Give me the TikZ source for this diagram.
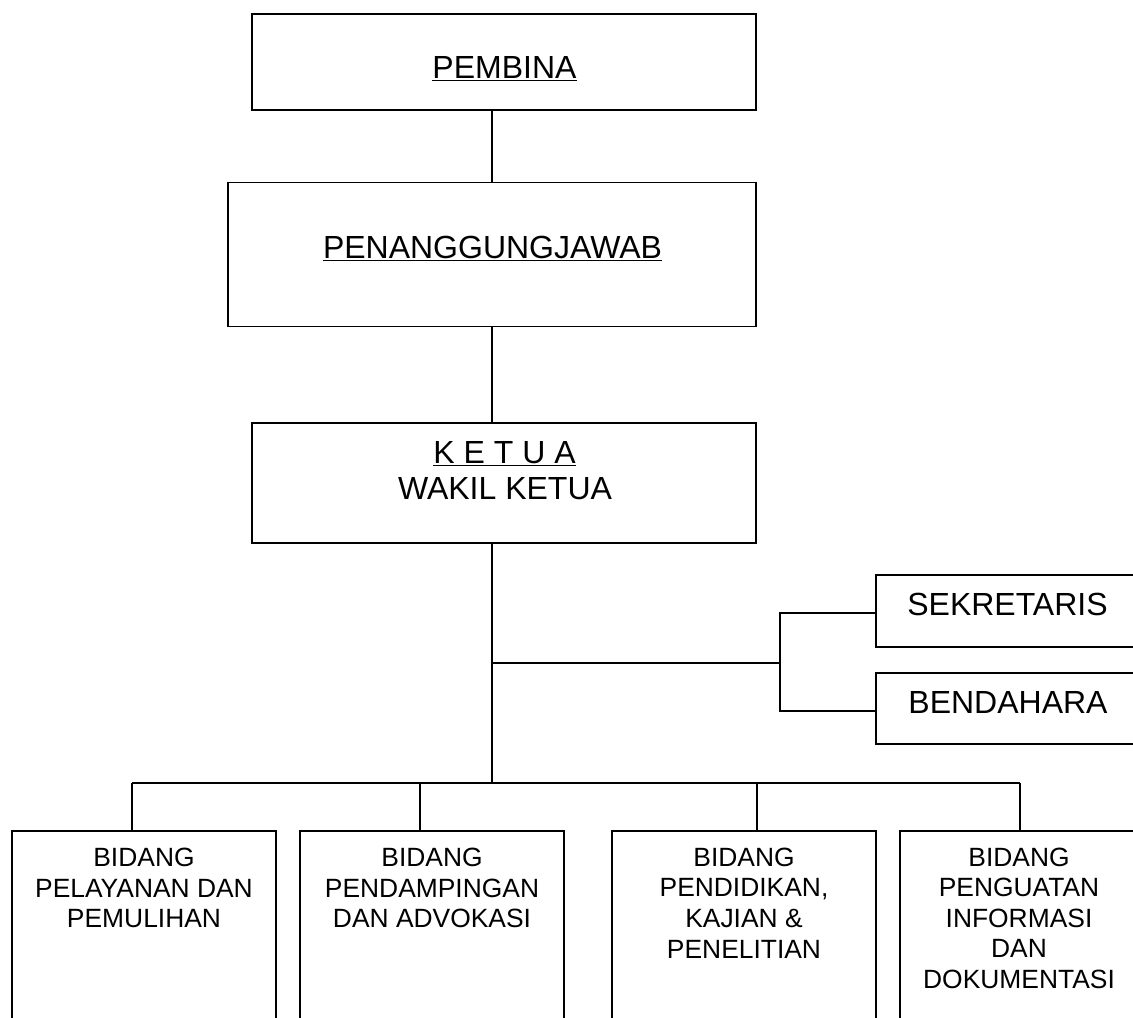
\documentclass[tikz,border=0pt]{standalone}
\usepackage{fontspec}
\setmainfont{Liberation Sans}
\begin{document}
\begin{tikzpicture}[x=0.75pt,y=-0.75pt,
  box/.style={draw=black,line width=1.4pt,rectangle,inner sep=0pt,fill=none},
  conn/.style={draw=black,line width=1.4pt},
  bigtxt/.style={inner sep=0pt,font=\fontsize{24}{27}\selectfont,anchor=base},
  smalltxt/.style={inner sep=0pt,font=\fontsize{19.8}{22.9}\selectfont,align=center,anchor=center}]
\useasboundingbox (0,0) rectangle (1133,1018);
\clip (0,0) rectangle (1133,1018);
\fill[white] (0,0) rectangle (1133,1018);
% boxes
\node[box,minimum width=378pt,minimum height=72pt] (pembina) at (504,62) {};
\node[box,minimum width=396pt,minimum height=108pt] (pj) at (492,254.5) {};
\node[box,minimum width=378pt,minimum height=90pt] (ketua) at (504,483) {};
\node[box,minimum width=198pt,minimum height=54pt] (sek) at (1008,611) {};
\node[box,minimum width=198pt,minimum height=53.25pt] (ben) at (1008,708.5) {};
\node[box,minimum width=198pt,minimum height=156pt] (b1) at (144,935) {};
\node[box,minimum width=198pt,minimum height=156pt] (b2) at (432,935) {};
\node[box,minimum width=198pt,minimum height=156pt] (b3) at (744,935) {};
\node[box,minimum width=198pt,minimum height=156pt] (b4) at (1032,935) {};
% texts
\node[bigtxt] (tpembina) at (504.5,78) {\underline{PEMBINA}};
\node[bigtxt] (tpj) at (492.5,258) {\underline{PENANGGUNGJAWAB}};
\node[bigtxt] (tketua) at (504.5,463) {\underline{K E T U A}};
\node[bigtxt] (twakil) at (505,499) {WAKIL KETUA};
\node[bigtxt] (tsek) at (1007.5,615) {SEKRETARIS};
\node[bigtxt] (tben) at (1008,713) {BENDAHARA};
\node[smalltxt] (tb1) at (144,888) {BIDANG\\PELAYANAN DAN\\PEMULIHAN};
\node[smalltxt] (tb2) at (432,888) {BIDANG\\PENDAMPINGAN\\DAN ADVOKASI};
\node[smalltxt] (tb3) at (744,903) {BIDANG\\PENDIDIKAN,\\KAJIAN \&\\PENELITIAN};
\node[smalltxt] (tb4) at (1019,918) {BIDANG\\PENGUATAN\\INFORMASI\\DAN\\DOKUMENTASI};
% junction coordinates
\coordinate (j1) at (492,663);
\coordinate (j2) at (780,663);
\coordinate (j3) at (492,783);
\coordinate (s1) at (780,613);
\coordinate (s2) at (780,711);
\coordinate (c1) at (132,783);
\coordinate (c2) at (420,783);
\coordinate (c3) at (757,783);
\coordinate (c4) at (1020,783);
% connectors
\draw[conn] (pembina.south -| pj.north) -- (pj.north);
\draw[conn] (pj.south) -- (pj.south |- ketua.north);
\draw[conn] (ketua.south -| j1) -- (j3);
\draw[conn] (j1) -- (j2);
\draw[conn] (s1 -| sek.west) -- (s1) -- (s2) -- (s2 -| ben.west);
\draw[conn] (c1) -- (c4);
\draw[conn] (c1) -- (c1 |- b1.north);
\draw[conn] (c2) -- (c2 |- b2.north);
\draw[conn] (c3) -- (c3 |- b3.north);
\draw[conn] (c4) -- (c4 |- b4.north);
\end{tikzpicture}
\end{document}
